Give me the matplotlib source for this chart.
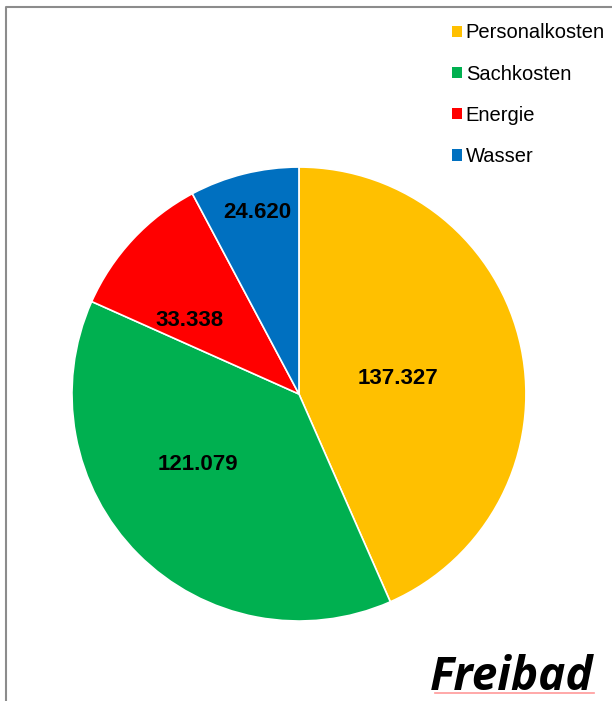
import matplotlib.pyplot as plt
from matplotlib.patches import Patch
import numpy as np

categories = ["Personalkosten", "Sachkosten", "Energie", "Wasser"]
values = [137327, 121079, 33338, 24620]
colors = ["#FFC000", "#00B050", "#FF0000", "#0070C0"]
title = "Freibad"

# label placement: (fraction of radius, angle shift in degrees)
label_pos = [(0.44, -3), (0.54, -10), (0.58, 9), (0.82, -1)]


def fmt(v):
  return "{:,}".format(v).replace(",", ".")


fig = plt.figure(figsize=(6.12, 7.01), dpi=100)
plt.rcParams['font.family'] = ['Liberation Sans', 'DejaVu Sans']

ax = fig.add_axes([0.1176, 0.1141, 0.7418, 0.6476])
wedges, _ = ax.pie(values, colors=colors, startangle=90, counterclock=False,
                   wedgeprops=dict(edgecolor="white", linewidth=1.2))
ax.set_aspect('equal')
ax.set_xlim(-1, 1)
ax.set_ylim(-1, 1)

for w, v, (r, da) in zip(wedges, values, label_pos):
  mid = np.deg2rad((w.theta1 + w.theta2) / 2 + da)
  ax.text(r * np.cos(mid), r * np.sin(mid), fmt(v), ha='center', va='center',
          fontsize=16, fontweight='bold', color='black')

handles = [Patch(facecolor=c, edgecolor='none') for c in colors]
fig.legend(handles, categories, loc='upper left', bbox_to_anchor=(0.725, 0.978),
           frameon=False, fontsize=14.5, handlelength=0.5, handleheight=0.5,
           handletextpad=0.2, labelspacing=1.1, borderaxespad=0)

# freibad title
fig.text(0.969, 0.0005, title, ha='right', va='bottom', fontsize=33,
         fontweight='bold', fontstyle='italic', family=['Open Sans', 'DejaVu Sans'])
fig.add_artist(plt.Line2D([0.711, 0.971], [0.012, 0.012], color='#FF9999', lw=1.2))

# chart border
fig.add_artist(plt.Line2D([0.0098, 0.0098, 1.0], [0.0, 0.99, 0.99],
                          color='#8C8C8C', lw=1.5))

fig.savefig("out.png", dpi=100, facecolor='white')
